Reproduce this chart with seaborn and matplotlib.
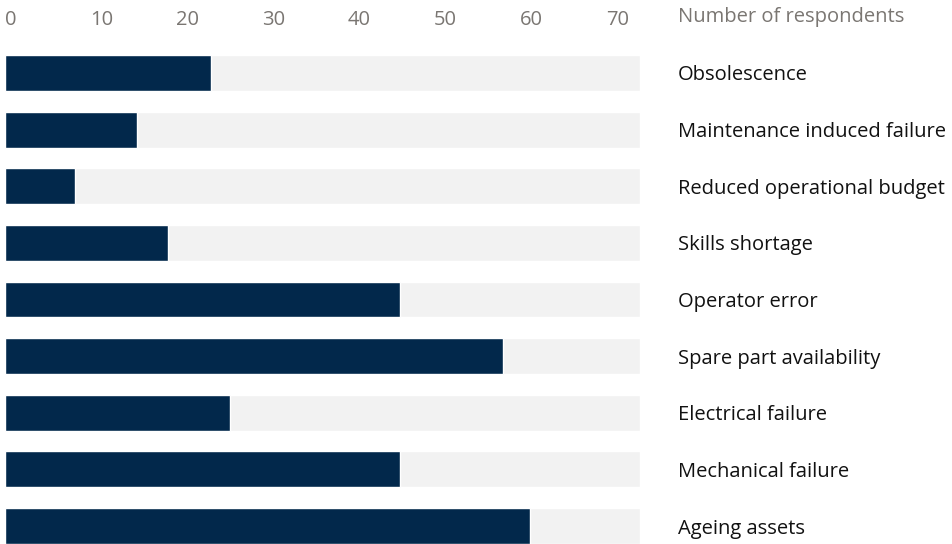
import matplotlib
matplotlib.use("Agg")
import matplotlib.pyplot as plt
import seaborn as sns
import pandas as pd

categories = ["Obsolescence", "Maintenance induced failure", "Reduced operational budget",
              "Skills shortage", "Operator error", "Spare part availability",
              "Electrical failure", "Mechanical failure", "Ageing assets"]
values = [24, 15.4, 8.2, 19, 46, 58, 26.3, 46, 61.2]
axis_max = 74
x_ticks = [0, 10, 20, 30, 40, 50, 60, 70]
axis_title = "Number of respondents"

sns.set_theme(style="white")
plt.rcParams['font.family'] = ['Open Sans', 'DejaVu Sans']
plt.rcParams['font.weight'] = 'medium'

df = pd.DataFrame({"category": categories, "value": values,
                   "bg": [axis_max] * len(categories)})

W, H = 952, 544
fig = plt.figure(figsize=(W / 100, H / 100), dpi=100)
ax = fig.add_axes([4.5 / W, 0, (640 - 4.5) / W, (544 - 55) / H])

bar_w = 36 / 56.75
sns.barplot(data=df, x="bg", y="category", order=categories, color="#f2f2f2",
            width=bar_w, saturation=1, ax=ax)
sns.barplot(data=df, x="value", y="category", order=categories, color="#02284b",
            width=bar_w, saturation=1, ax=ax)

ax.set_xlim(0, axis_max)
ax.set_ylim(len(categories) - 1 + bar_w / 2, -bar_w / 2)
ax.set_xlabel("")
ax.set_ylabel("")
for s in ax.spines.values():
    s.set_visible(False)

fs = 14.5
ax.xaxis.tick_top()
ax.set_xticks(x_ticks)
ax.set_xticklabels([str(t) for t in x_ticks])
ax.tick_params(axis="x", length=0, pad=18, labelsize=fs, labelcolor="#7a7672")
for lab in ax.get_xticklabels():
    lab.set_horizontalalignment("left")

ax.yaxis.tick_right()
ax.tick_params(axis="y", length=0, pad=(678 - 640) * 0.72, labelsize=fs, labelcolor="#111111")
for lab in ax.get_yticklabels():
    lab.set_horizontalalignment("left")

fig.text(678 / W, 1 - 17 / H, axis_title, ha="left", va="center",
         fontsize=fs, color="#7a7672")

fig.savefig("out.png", dpi=100)
